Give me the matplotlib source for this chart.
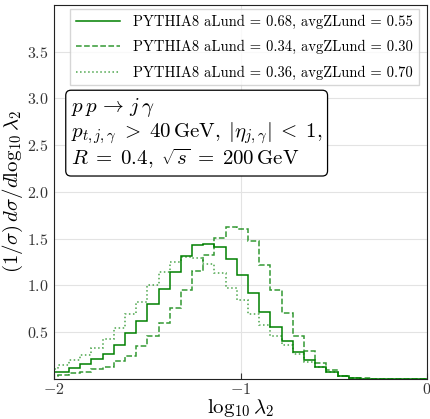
import numpy as np
import matplotlib.pyplot as plt

plt.rcParams['font.family'] = 'serif'
plt.rcParams['font.serif'] = ['cmr10']
plt.rcParams['mathtext.fontset'] = 'cm'
plt.rcParams['axes.formatter.use_mathtext'] = True

# bin edges in log10(lambda_2)
edges = np.round(np.arange(-2.1, 0.0001, 0.06), 4)

solid = [0.0, 0.07, 0.08, 0.12, 0.16, 0.21, 0.27, 0.36, 0.49, 0.62, 0.80, 0.96, 1.14,
         1.32, 1.43, 1.44, 1.41, 1.28, 1.11, 0.92, 0.72, 0.56, 0.41, 0.29, 0.20, 0.13,
         0.08, 0.03, 0.015, 0.005, 0.0, 0.0, 0.0, 0.0, 0.0]
dashed = [0.0, 0.035, 0.04, 0.06, 0.08, 0.11, 0.13, 0.19, 0.25, 0.35, 0.46, 0.60, 0.76,
          0.95, 1.15, 1.33, 1.51, 1.63, 1.60, 1.48, 1.22, 0.95, 0.71, 0.46, 0.30, 0.17,
          0.10, 0.035, 0.015, 0.007, 0.0, 0.0, 0.0, 0.0, 0.0]
dotted = [0.0, 0.11, 0.15, 0.20, 0.26, 0.33, 0.43, 0.55, 0.69, 0.82, 1.00, 1.14, 1.25,
          1.30, 1.29, 1.23, 1.13, 0.97, 0.84, 0.70, 0.58, 0.46, 0.36, 0.27, 0.18, 0.125,
          0.08, 0.03, 0.015, 0.004, 0.0, 0.0, 0.0, 0.0, 0.0]

labels = ['PYTHIA8 aLund = 0.68, avgZLund = 0.55',
          'PYTHIA8 aLund = 0.34, avgZLund = 0.30',
          'PYTHIA8 aLund = 0.36, avgZLund = 0.70']

fig = plt.figure(figsize=(4.30, 4.19), dpi=100)
ax = fig.add_axes([0.126, 0.0955, 0.867, 0.893])

ax.stairs(solid, edges, color='green', lw=1.1, ls='-', label=labels[0])
ax.stairs(dashed, edges, color='green', alpha=0.8, lw=1.1, ls='--', label=labels[1])
ax.stairs(dotted, edges, color='green', alpha=0.7, lw=1.1, ls=':', label=labels[2])

ax.set_xlim(-2, 0)
ax.set_ylim(0, 4.0)
ax.set_xticks([-2, -1, 0])
ax.set_yticks([0.5, 1.0, 1.5, 2.0, 2.5, 3.0, 3.5])
ax.tick_params(direction='in', length=4, labelsize=11.5, colors='#333333', pad=2)
ax.tick_params(axis='y', length=0, pad=4)
ax.grid(True, color='#e3e3e3', lw=0.8)
ax.set_axisbelow(True)
for s in ax.spines.values():
    s.set_color('#222222')

ax.set_xlabel(r'$\log_{10}\lambda_2$', fontsize=15, labelpad=0)
ax.set_ylabel(r'$(1/\sigma)\,d\sigma/d\log_{10}\lambda_2$', fontsize=15, labelpad=1)

ax.legend(loc='upper center', fontsize=10.5, frameon=True, fancybox=False,
          edgecolor='#cccccc', handlelength=3.0, handletextpad=0.9,
          borderaxespad=0.3, labelspacing=0.75, bbox_to_anchor=(0.51, 1.0))

ax.text(0.045, 0.755,
        '$p\\,p\\,\\rightarrow\\, j\\,\\gamma$\n'
        '$p_{t,j,\\gamma}\\;>\\;40\\,\\mathrm{GeV},\\;|\\eta_{j,\\gamma}|\\;<\\;1,$\n'
        '$R\\;=\\;0.4,\\;\\sqrt{s}\\;=\\;200\\,\\mathrm{GeV}$',
        transform=ax.transAxes, fontsize=15, va='top', ha='left', linespacing=1.05,
        bbox=dict(boxstyle='round,pad=0.25', fc='white', ec='black', lw=0.9))

fig.savefig('out.png', dpi=100)
